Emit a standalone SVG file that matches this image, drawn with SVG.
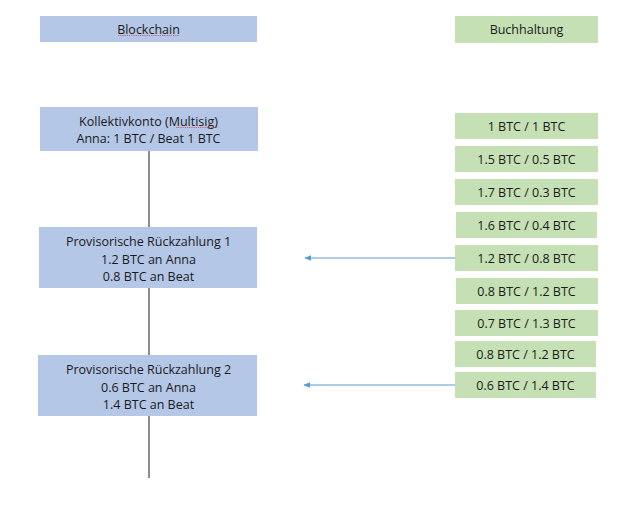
<svg xmlns="http://www.w3.org/2000/svg" width="640" height="513" viewBox="0 0 640 513">
<defs>
<style>
.blue{fill:#B4C7E7}
.green{fill:#C5E0B4}
text{font-family:"Open Sans","Liberation Sans",sans-serif;font-size:12.5px;fill:#1a1a1a;text-anchor:middle;dominant-baseline:central}
.vline{stroke:#404040;stroke-width:1.2;fill:none}
.arrow{stroke:#5B9BD5;stroke-width:1.2;fill:none;marker-end:url(#ah)}
.squig{stroke:#E03030;stroke-width:0.7;fill:none;stroke-dasharray:1.2 1}
</style>
<marker id="ah" viewBox="0 0 10 10" refX="9" refY="5" markerWidth="7" markerHeight="7" orient="auto" markerUnits="userSpaceOnUse">
<path d="M0,1 L10,5 L0,9 z" fill="#5B9BD5"/>
</marker>
</defs>
<rect width="640" height="513" fill="#ffffff"/>
<g id="connectors">
<line class="vline" x1="149" y1="151" x2="149" y2="227"/>
<line class="vline" x1="149" y1="288" x2="149" y2="355"/>
<line class="vline" x1="149" y1="416" x2="149" y2="478"/>
<line class="arrow" x1="455" y1="258" x2="305" y2="258"/>
<line class="arrow" x1="455" y1="385" x2="304" y2="385"/>
</g>
<g id="blockchain-header">
<rect class="blue" x="40" y="16" width="217" height="26"/>
<text x="148.5" y="29">Blockchain</text>
<path class="squig" d="M118,35.5 h61"/>
</g>
<g id="buchhaltung-header">
<rect class="green" x="455" y="16" width="143" height="27"/>
<text x="526.5" y="29.5">Buchhaltung</text>
</g>
<g id="kollektivkonto">
<rect class="blue" x="40" y="107" width="218" height="44"/>
<text x="148.5" y="121">Kollektivkonto (Multisig)</text>
<text x="148.5" y="138">Anna: 1 BTC / Beat 1 BTC</text>
<path class="squig" d="M176,127.5 h42"/>
</g>
<g id="rueckzahlung1">
<rect class="blue" x="39" y="227" width="218" height="61"/>
<text x="148.5" y="241">Provisorische Rückzahlung 1</text>
<text x="148.5" y="259">1.2 BTC an Anna</text>
<text x="148.5" y="276">0.8 BTC an Beat</text>
</g>
<g id="rueckzahlung2">
<rect class="blue" x="38" y="355" width="219" height="61"/>
<text x="148.5" y="369">Provisorische Rückzahlung 2</text>
<text x="148.5" y="387">0.6 BTC an Anna</text>
<text x="148.5" y="404">1.4 BTC an Beat</text>
</g>
<g id="b1"><rect class="green" x="455" y="113" width="143" height="26"/><text x="526.5" y="126.5">1 BTC / 1 BTC</text></g>
<g id="b2"><rect class="green" x="455" y="146" width="143" height="26"/><text x="526.5" y="159.5">1.5 BTC / 0.5 BTC</text></g>
<g id="b3"><rect class="green" x="455" y="179" width="143" height="26"/><text x="526.5" y="192.5">1.7 BTC / 0.3 BTC</text></g>
<g id="b4"><rect class="green" x="456" y="212" width="141" height="26"/><text x="526.5" y="225.5">1.6 BTC / 0.4 BTC</text></g>
<g id="b5"><rect class="green" x="455" y="245" width="143" height="26"/><text x="526.5" y="258.5">1.2 BTC / 0.8 BTC</text></g>
<g id="b6"><rect class="green" x="456" y="278" width="142" height="26"/><text x="526.5" y="291.5">0.8 BTC / 1.2 BTC</text></g>
<g id="b7"><rect class="green" x="455" y="310" width="143" height="26"/><text x="526.5" y="323.5">0.7 BTC / 1.3 BTC</text></g>
<g id="b8"><rect class="green" x="455" y="341" width="141" height="26"/><text x="525.5" y="354.5">0.8 BTC / 1.2 BTC</text></g>
<g id="b9"><rect class="green" x="455" y="372" width="141" height="26"/><text x="525.5" y="385.5">0.6 BTC / 1.4 BTC</text></g>
</svg>
